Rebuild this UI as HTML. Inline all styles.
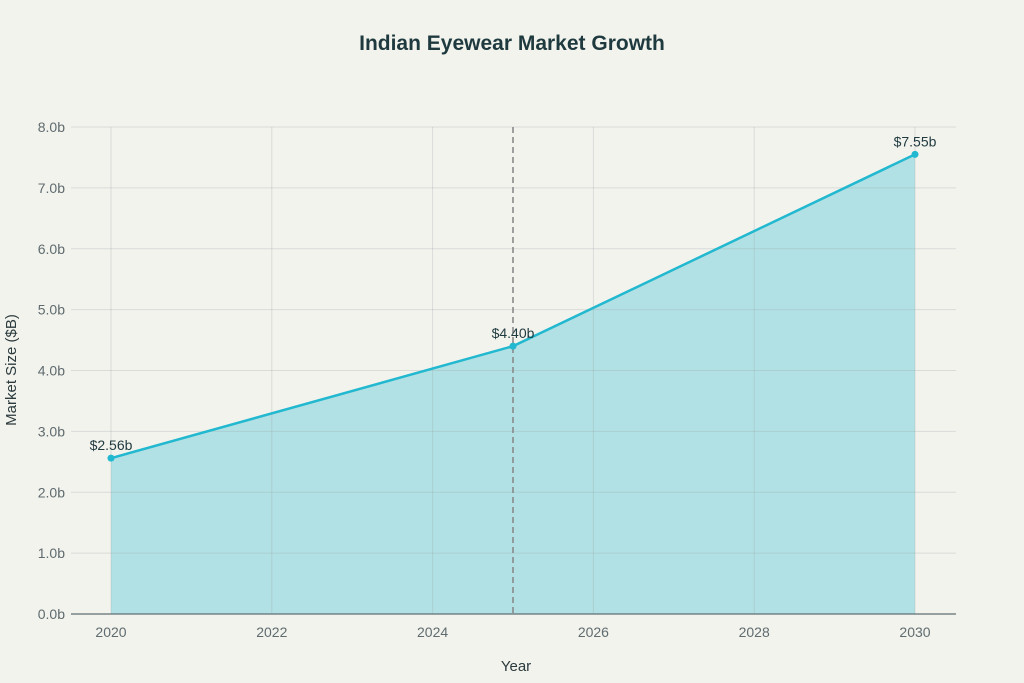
<!DOCTYPE html>
<html><head><meta charset="utf-8"><style>
html,body{margin:0;padding:0;background:#f3f3ee;}
svg{display:block;font-family:"Liberation Sans",sans-serif;}
</style></head><body>
<svg id="chart" width="1024" height="683">
<rect width="1024" height="683" fill="#f3f3ee"/>
<text x="512" y="50" text-anchor="middle" font-size="21" font-weight="bold" fill="#1f3a3f">Indian Eyewear Market Growth</text>
<g id="under"></g>
<g id="grid"></g>
<g id="marks"></g>
<text x="516" y="671" text-anchor="middle" font-size="15" fill="#2b3a3d">Year</text>
<text transform="translate(16,370) rotate(-90)" text-anchor="middle" font-size="15" fill="#2b3a3d">Market Size ($B)</text>
</svg>
<script>
const years=[2020,2025,2030];
const values=[2.56,4.40,7.55];
const labels=["$2.56b","$4.40b","$7.55b"];
const xTicks=[2020,2022,2024,2026,2028,2030];
const yTicks=[0,1,2,3,4,5,6,7,8];
const markerYear=2025;
const NS="http://www.w3.org/2000/svg";
const x=v=>111+(v-2020)*80.4;
const y=v=>614-v*60.875;
function mk(tag,attrs,parent){const e=document.createElementNS(NS,tag);for(const k in attrs)e.setAttribute(k,attrs[k]);parent.appendChild(e);return e;}
const under=document.getElementById('under'),grid=document.getElementById('grid'),marks=document.getElementById('marks');
let d='M'+x(years[0])+','+y(0);
years.forEach((yr,i)=>d+=' L'+x(yr)+','+y(values[i]));
d+=' L'+x(years[years.length-1])+','+y(0)+' Z';
const area=mk('path',{d:d,fill:'#b1e1e4'},under);


yTicks.forEach(t=>{
 const l=mk('line',{x1:71,x2:956,y1:y(t),y2:y(t),stroke:'#9aa5a5','stroke-opacity':0.3,'stroke-width':1},grid);
 
 
 const tx=mk('text',{x:65,y:y(t)+5,'text-anchor':'end','font-size':14,fill:'#5f6b6e'},grid);
 tx.textContent=t.toFixed(1)+'b';
 
 
});
xTicks.forEach(t=>{
 const l=mk('line',{x1:x(t),x2:x(t),y1:127,y2:614,stroke:'#9aa5a5','stroke-opacity':0.3,'stroke-width':1},grid);
 
 
 const tx=mk('text',{x:x(t),y:637,'text-anchor':'middle','font-size':14,fill:'#5f6b6e'},grid);
 tx.textContent=t;
 
 
});
const axis=mk('line',{x1:71,x2:956,y1:614,y2:614,stroke:'#5f6f73','stroke-width':1.2},marks);


const vl=mk('line',{x1:x(markerYear),x2:x(markerYear),y1:127,y2:614,stroke:'#8a8a8a','stroke-width':1.6,'stroke-dasharray':'6,4'},marks);


const line=mk('polyline',{points:years.map((yr,i)=>x(yr)+','+y(values[i])).join(' '),fill:'none',stroke:'#22b8cf','stroke-width':2.5},marks);


years.forEach((yr,i)=>{
 const c=mk('circle',{cx:x(yr),cy:y(values[i]),r:3.5,fill:'#22b8cf'},marks);
 
 
 const t=mk('text',{x:x(yr),y:y(values[i])-8,'text-anchor':'middle','font-size':14,fill:'#1f3a3f'},marks);
 t.textContent=labels[i];
 
 
});
</script>
</body></html>
